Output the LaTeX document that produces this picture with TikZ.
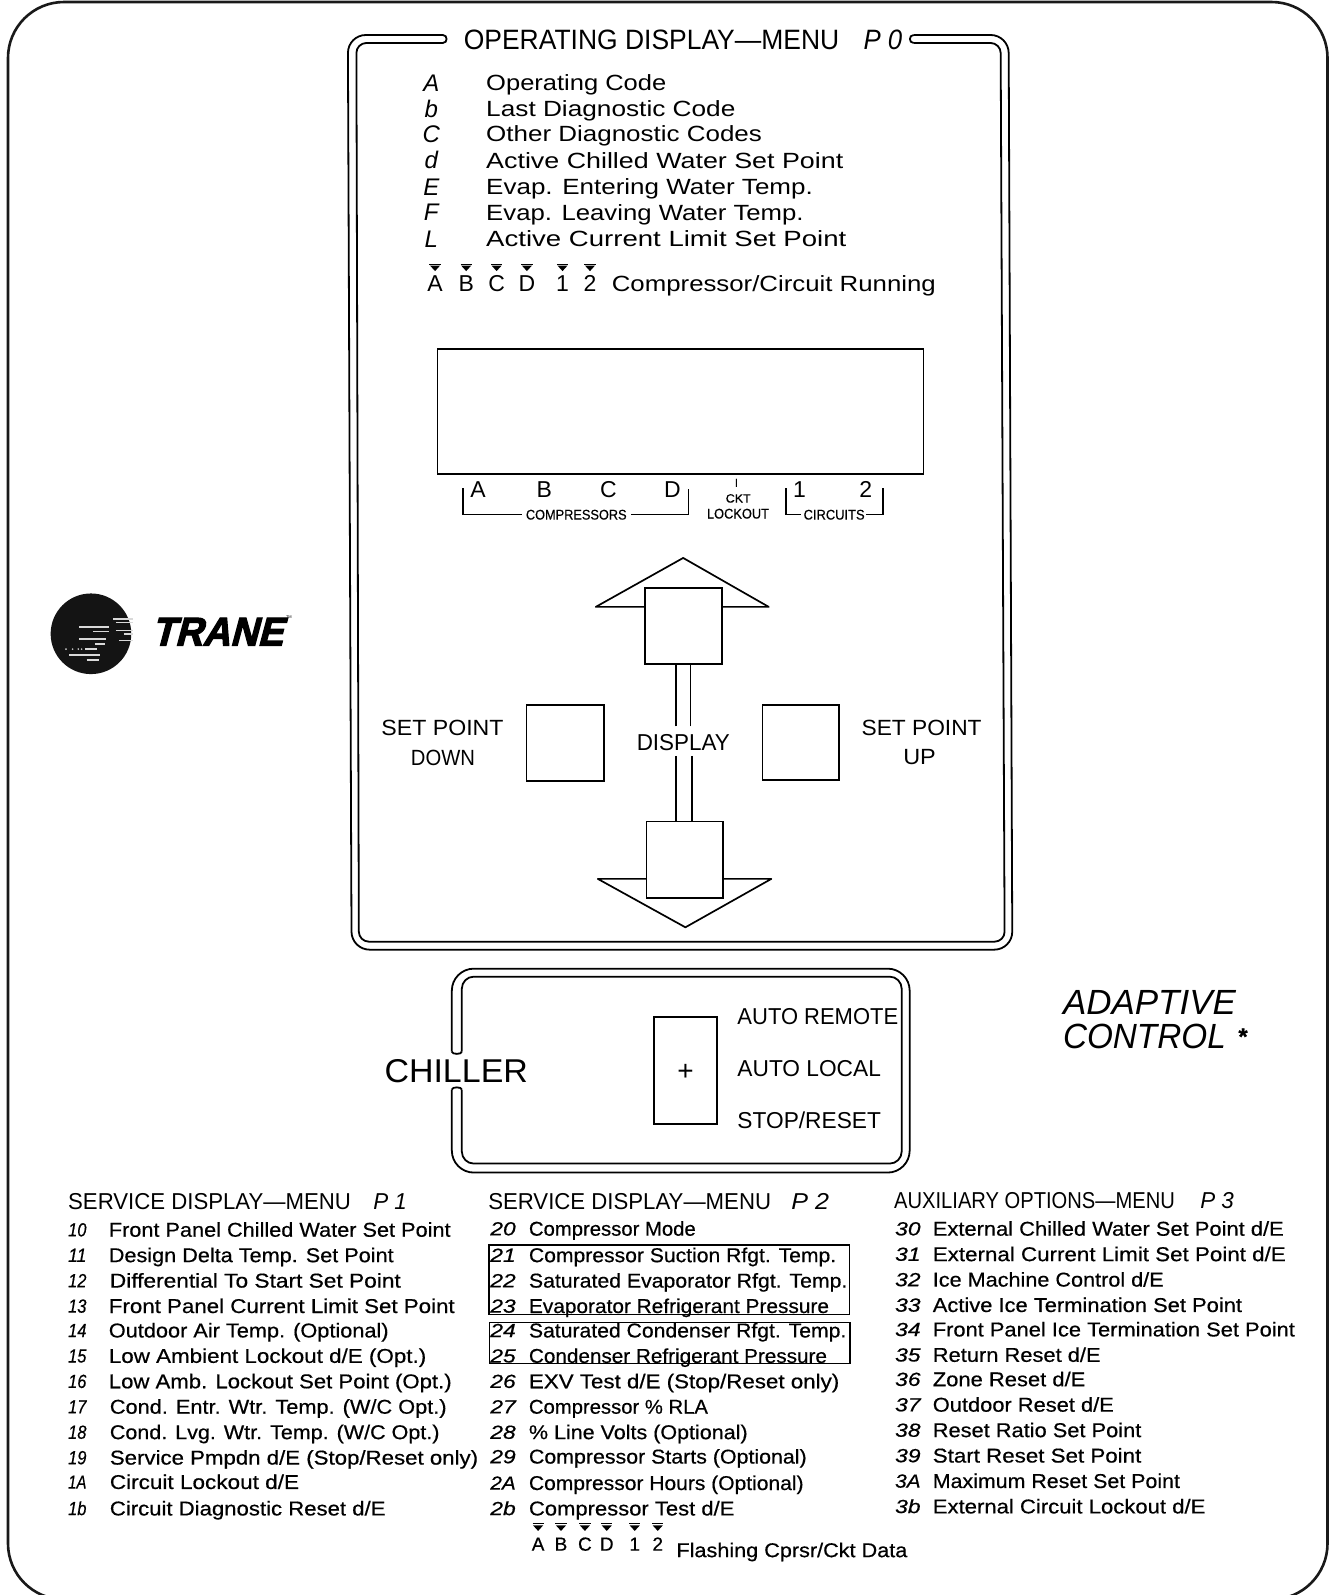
\documentclass[tikz,border=0pt]{standalone}
\usepackage{fontspec}
\usepackage{graphicx}
\setmainfont{Liberation Sans}
\newfontfamily\bfs[FakeBold=0.5]{Liberation Sans}
\newfontfamily\hvy[FakeBold=3,FakeSlant=0.28]{Liberation Sans}
\newcommand{\fsz}[1]{\fontsize{#1}{#1}\selectfont}
\newcommand{\ftitle}{\fsz{28}}
\newcommand{\ftop}{\fsz{22}}
\newcommand{\fmid}{\fsz{23}}
\newcommand{\fsub}{\fsz{23}}
\newcommand{\flist}{\bfs\fsz{20}}
\newcommand{\fcode}{\bfs\itshape\fsz{19}}
\newcommand{\fsmall}{\bfs\fsz{14}}
% fitted text: name, font, x0, x1, y centre, text
\newcommand{\tl}[6]{%
  \pgfmathsetlengthmacro{\tw}{((#4)-(#3))*1.0176pt}%
  \node[txt,anchor=west,font=#2] (#1) at (#3,#5) {\resizebox{\tw}{\height}{\vphantom{H}\smash{#6}}};}
% centred text: name, font, x, y, text
\newcommand{\cl}[5]{\node[txt,font=#2] (#1) at (#3,#4) {\vphantom{H}\smash{#5}};}
\newcommand{\tri}[2]{%
  \draw[thick] (#1-5.5,#2) -- (#1+5.5,#2);
  \fill (#1-5,#2+1.5) -- (#1+5,#2+1.5) -- (#1,#2+7) -- cycle;}
\tikzset{
  txt/.style={inner sep=0pt,outer sep=0pt},
  fullpx/.style={x=1pt,y=-1pt},
  thin line/.style={line width=1.5pt,black},
  key box/.style={line width=1.7pt,black},
  panel line/.style={line width=1.8pt,black,line join=round},
}
\begin{document}
\begin{tikzpicture}[x=1.0176pt,y=-1.0176pt]
\useasboundingbox (0,0) rectangle (1309,1568);
\begin{scope}
\clip (0,0) rectangle (1309,1568);
% outer frame
\begin{scope}[fullpx]
\draw[line width=2.6pt,black!90,rounded corners=56pt] (8,2) rectangle (1328,1600);
% operating panel
\draw[panel line,rounded corners=18pt] (443,35) -- (348,35) -- (351.7,950) -- (1012.7,950) -- (1009,35) -- (914,35);
\draw[panel line,rounded corners=10pt] (443,43) -- (356.5,43) -- (359,942) -- (1005,942) -- (1001,43) -- (914,43);
\draw[panel line] (443,35) .. controls (448,35) and (448,43) .. (443,43);
\draw[panel line] (914,35) .. controls (909,35) and (909,43) .. (914,43);
% chiller panel
\draw[panel line,rounded corners=22pt] (452,1052) -- (452,969) -- (910,969) -- (910,1173) -- (452,1173) -- (452,1090);
\draw[panel line,rounded corners=12pt] (462,1052) -- (462,977) -- (902,977) -- (902,1164) -- (462,1164) -- (462,1090);
\draw[panel line] (452,1052) .. controls (452,1055) and (462,1055) .. (462,1052);
\draw[panel line] (452,1090) .. controls (452,1087) and (462,1087) .. (462,1090);
\end{scope}
\end{scope}

% title
\tl{t0}{\ftitle}{456}{825}{39}{OPERATING DISPLAY---MENU}
\tl{p0}{\ftitle\itshape}{849}{887}{39}{P 0}
% top list
\foreach \n/\c/\y in {a/A/82,b/b/107,c/C/132,d/d/158,e/E/184,f/F/209,l/L/235}{
  \cl{c\n}{\fsz{24}\itshape}{424}{\y}{\c}
}
\tl{l1}{\ftop}{478}{655}{82}{Operating Code}
\tl{l2}{\ftop}{478}{723}{107}{Last Diagnostic Code}
\tl{l3}{\ftop}{478}{749}{132}{Other Diagnostic Codes}
\tl{l4}{\ftop}{478}{829}{158}{Active Chilled Water Set Point}
\tl{l5}{\ftop}{478}{799}{184}{Evap. Entering Water Temp.}
\tl{l6}{\ftop}{478}{790}{209}{Evap. Leaving Water Temp.}
\tl{l7}{\ftop}{478}{832}{235}{Active Current Limit Set Point}
% indicator row
\foreach \n/\c/\x in {ra/A/427.7,rb/B/458.3,rc/C/488.2,rd/D/518,re/1/553,rf/2/580}{
  \cl{\n}{\fsz{23}}{\x}{278.5}{\c}
  \tri{\x}{259.5}
}
\tl{l8}{\ftop}{601.5}{920}{279}{Compressor/Circuit Running}

% display window
\node[draw,key box,minimum width=478*1.0176pt,minimum height=123*1.0176pt,inner sep=0pt] (win) at (669,404.5) {};
% window legends
\foreach \n/\c/\x in {wa/A/470,wb/B/535,wc/C/598,wd/D/661,we/1/786,wf/2/851}{
  \cl{\n}{\fsz{23}}{\x}{481}{\c}
}
\cl{wi}{\fsz{12}}{724}{475}{I}
\tl{comp}{\fsmall}{517}{616}{506}{COMPRESSORS}
\tl{ckt}{\bfs\fsz{12}}{713.5}{738}{490}{CKT}
\tl{lock}{\fsmall}{695}{756}{505}{LOCKOUT}
\tl{circ}{\fsmall}{790}{850}{506}{CIRCUITS}
\coordinate (ba) at (455,480);
\coordinate (bb) at (677,481);
\coordinate (bc) at (772.6,480);
\coordinate (bd) at (868,480);
\draw[thin line] (ba) -- (ba|-comp) -- ([xshift=-4pt]comp.west);
\draw[thin line] (bb) -- (bb|-comp) -- ([xshift=4pt]comp.east);
\draw[thin line] (bc) -- (bc|-circ) -- ([xshift=-3pt]circ.west);
\draw[thin line] (bd) -- (bd|-circ) -- ([xshift=1pt]circ.east);

% arrows and keys
\draw[key box,line join=round] (633.8,596.6) -- (585.7,596.6) -- (671.6,548.5) -- (755.7,596.6) -- (709.5,596.6);
\draw[key box,line join=round] (635.5,864) -- (587.7,864) -- (673.8,911.6) -- (758.3,864) -- (710.5,864);
\node[draw,key box,minimum width=75.7*1.0176pt,minimum height=74.5*1.0176pt,inner sep=0pt] (kup) at (671.6,615.2) {};
\node[draw,key box,minimum width=75*1.0176pt,minimum height=75*1.0176pt,inner sep=0pt] (kdn) at (673,845) {};
\node[draw,key box,minimum width=76.3*1.0176pt,minimum height=74.7*1.0176pt,inner sep=0pt] (kl) at (555.7,730.1) {};
\node[draw,key box,minimum width=75.1*1.0176pt,minimum height=73.7*1.0176pt,inner sep=0pt] (kr) at (787,729.6) {};
\tl{disp}{\fmid}{626}{717.5}{730}{DISPLAY}
\coordinate (s1a) at (664.3,714);
\coordinate (s1b) at (678.8,714);
\coordinate (s2a) at (664.5,743);
\coordinate (s2b) at (680,743);
\draw[key box] (s1a) -- (s1a|-kup.south);
\draw[key box] (s1b) -- (s1b|-kup.south);
\draw[key box] (s2a) -- (s2a|-kdn.north);
\draw[key box] (s2b) -- (s2b|-kdn.north);
\tl{spd1}{\ftop}{375}{495}{716}{SET POINT}
\tl{spd2}{\ftop}{404}{467}{745}{DOWN}
\tl{spu1}{\ftop}{847}{965}{716}{SET POINT}
\tl{spu2}{\ftop}{888}{920}{744}{UP}

% logo
\begin{scope}[x=0.3333pt,y=-0.3333pt,shift={(30pt,-580pt)}]
\fill[black!92] (183,162) circle (121);
\foreach \a/\b/\y in {250/310/117,258/310/128,148/238/141,258/310/152,190/238/155,282/310/163,148/228/177,268/310/182,195/225/192,165/200/208,118/210/225,170/208/240}{
  \draw[white!85!black,line width=1.5pt] (\a,\y) -- (\b,\y);
}
\foreach \a in {108,128,145,155}{
  \fill[white!80!black] (\a,208) circle (2.8);
}
\end{scope}
\tl{trane}{\hvy\bfseries\fsz{40}}{149}{278}{621}{TRANE}
\cl{tm}{\fsz{4}}{284}{607}{TM}

% chiller panel contents
\tl{chil}{\fsz{33}}{378}{519}{1053}{CHILLER}
\node[draw,key box,minimum width=62*1.0176pt,minimum height=105*1.0176pt,inner sep=0pt] (sw) at (674,1052.5) {};
\cl{plus}{\fsz{28}}{674}{1053}{+}
\tl{ar}{\fmid}{725}{883}{999}{AUTO REMOTE}
\tl{al}{\fmid}{725}{866}{1050}{AUTO LOCAL}
\tl{sr}{\fmid}{725}{866}{1102}{STOP/RESET}
\tl{ad}{\fsz{35}\itshape}{1045}{1215}{985}{ADAPTIVE}
\tl{co}{\fsz{35}\itshape}{1045}{1205}{1019}{CONTROL}
\cl{star}{\bfs\bfseries\fsz{24}}{1222}{1019}{*}

% column headings
\tl{h1}{\fsub}{67}{345}{1181}{SERVICE DISPLAY---MENU}
\tl{h1p}{\fsub\itshape}{367}{400}{1181}{P 1}
\tl{h2}{\fsub}{480}{758}{1181}{SERVICE DISPLAY---MENU}
\tl{h2p}{\fsub\itshape}{778}{815}{1181}{P 2}
\tl{h3}{\fsub}{879}{1155}{1180}{AUXILIARY OPTIONS---MENU}
\tl{h3p}{\fsub\itshape}{1180}{1213}{1180}{P 3}

% column 1
\foreach \n/\c/\y in {a/10/1209,b/11/1234,c/12/1259,d/13/1284,e/14/1308,f/15/1333,g/16/1358,h/17/1383,i/18/1408,j/19/1433,k/1A/1457,l/1b/1483}{
  \tl{ca\n}{\fcode}{67}{85}{\y}{\c}
}
\tl{a1}{\flist}{107}{443}{1209}{Front Panel Chilled Water Set Point}
\tl{a2}{\flist}{107}{387}{1234}{Design Delta Temp. Set Point}
\tl{a3}{\flist}{108}{394}{1259}{Differential To Start Set Point}
\tl{a4}{\flist}{107}{447}{1284}{Front Panel Current Limit Set Point}
\tl{a5}{\flist}{107}{382}{1308}{Outdoor Air Temp. (Optional)}
\tl{a6}{\flist}{107}{419}{1333}{Low Ambient Lockout d/E (Opt.)}
\tl{a7}{\flist}{107}{444}{1358}{Low Amb. Lockout Set Point (Opt.)}
\tl{a8}{\flist}{108}{439}{1383}{Cond. Entr. Wtr. Temp. (W/C Opt.)}
\tl{a9}{\flist}{108}{432}{1408}{Cond. Lvg. Wtr. Temp. (W/C Opt.)}
\tl{a10}{\flist}{108}{470}{1433}{Service Pmpdn d/E (Stop/Reset only)}
\tl{a11}{\flist}{108}{294}{1457}{Circuit Lockout d/E}
\tl{a12}{\flist}{108}{379}{1483}{Circuit Diagnostic Reset d/E}

% column 2
\foreach \n/\c/\y in {a/20/1208,b/21/1234,c/22/1259,d/23/1284,e/24/1308,f/25/1333,g/26/1358,h/27/1383,i/28/1408,j/29/1432,k/2A/1458,l/2b/1483}{
  \tl{cb\n}{\fcode}{482}{507}{\y}{\c}
}
\tl{b1}{\flist}{520}{684}{1208}{Compressor Mode}
\tl{b2}{\flist}{520}{822}{1234}{Compressor Suction Rfgt. Temp.}
\tl{b3}{\flist}{520}{833}{1259}{Saturated Evaporator Rfgt. Temp.}
\tl{b4}{\flist}{520}{815}{1284}{Evaporator Refrigerant Pressure}
\tl{b5}{\flist}{520}{832}{1308}{Saturated Condenser Rfgt. Temp.}
\tl{b6}{\flist}{520}{813}{1333}{Condenser Refrigerant Pressure}
\tl{b7}{\flist}{520}{825}{1358}{EXV Test d/E (Stop/Reset only)}
\tl{b8}{\flist}{520}{696}{1383}{Compressor \% RLA}
\tl{b9}{\flist}{520}{735}{1408}{\% Line Volts (Optional)}
\tl{b10}{\flist}{520}{793}{1432}{Compressor Starts (Optional)}
\tl{b11}{\flist}{520}{790}{1458}{Compressor Hours (Optional)}
\tl{b12}{\flist}{520}{722}{1483}{Compressor Test d/E}
\node[draw,key box,minimum width=354.5*1.0176pt,minimum height=68.5*1.0176pt,inner sep=0pt] (bx1) at (658,1258) {};
\node[draw,key box,minimum width=354.5*1.0176pt,minimum height=40.5*1.0176pt,inner sep=0pt] (bx2) at (658.5,1320.2) {};
\foreach \n/\c/\x in {fa/A/529,fb/B/551.5,fc/C/575,fd/D/596.5,fe/1/624,ff/2/646.6}{
  \cl{\n}{\bfs\fsz{19}}{\x}{1518}{\c}
  \tri{\x}{1498}
}
\tl{fl}{\flist}{665}{892}{1524}{Flashing Cprsr/Ckt Data}

% column 3
\foreach \n/\c/\y in {a/30/1208,b/31/1233,c/32/1258,d/33/1283,e/34/1307,f/35/1332,g/36/1356,h/37/1381,i/38/1406,j/39/1431,k/3A/1456,l/3b/1481}{
  \tl{cc\n}{\fcode}{880}{905}{\y}{\c}
}
\tl{c1}{\flist}{917}{1262}{1208}{External Chilled Water Set Point d/E}
\tl{c2}{\flist}{917}{1264}{1233}{External Current Limit Set Point d/E}
\tl{c3}{\flist}{917}{1144}{1258}{Ice Machine Control d/E}
\tl{c4}{\flist}{917}{1221}{1283}{Active Ice Termination Set Point}
\tl{c5}{\flist}{917}{1273}{1307}{Front Panel Ice Termination Set Point}
\tl{c6}{\flist}{917}{1082}{1332}{Return Reset d/E}
\tl{c7}{\flist}{917}{1067}{1356}{Zone Reset d/E}
\tl{c8}{\flist}{917}{1095}{1381}{Outdoor Reset d/E}
\tl{c9}{\flist}{917}{1122}{1406}{Reset Ratio Set Point}
\tl{c10}{\flist}{917}{1122}{1431}{Start Reset Set Point}
\tl{c11}{\flist}{917}{1160}{1456}{Maximum Reset Set Point}
\tl{c12}{\flist}{917}{1185}{1481}{External Circuit Lockout d/E}
\end{tikzpicture}
\end{document}
